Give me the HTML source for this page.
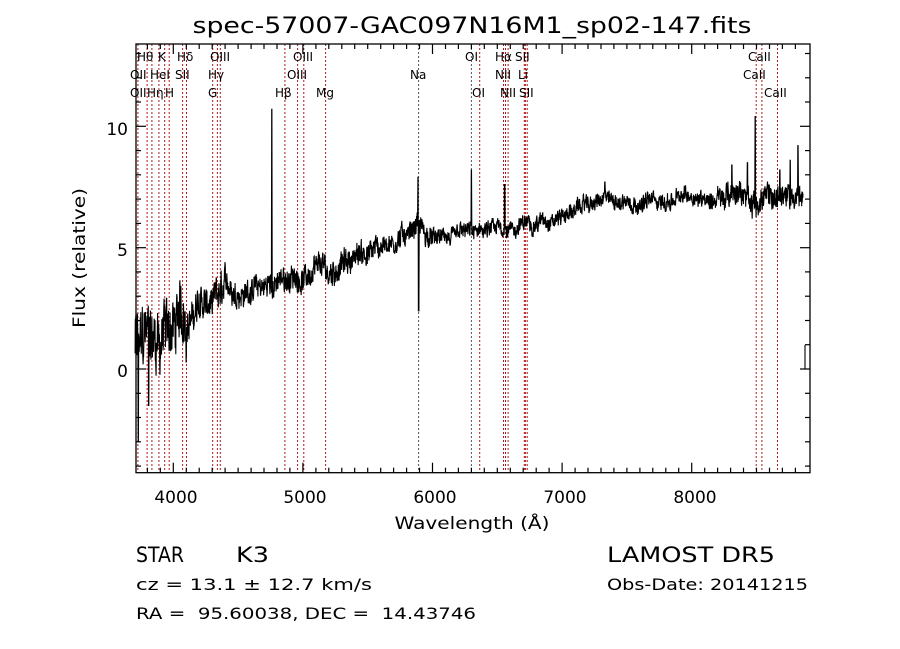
<!DOCTYPE html>
<html><head><meta charset="utf-8"><style>
html,body{margin:0;padding:0;background:#fff;}
svg{display:block;}
text{font-family:"DejaVu Sans","Liberation Sans",sans-serif;fill:#000;white-space:pre;}
</style></head><body>
<svg id="s" width="900" height="649" viewBox="0 0 900 649" xmlns="http://www.w3.org/2000/svg" xml:space="preserve">
<rect width="900" height="649" fill="#fff"/>
<text x="472" y="33" font-size="22" text-anchor="middle" textLength="559" lengthAdjust="spacingAndGlyphs">spec-57007-GAC097N16M1_sp02-147.fits</text>
<g id="lines"></g>
<path id="spec" fill="none" stroke="#000" stroke-width="1.1"/>
<rect x="136" y="44" width="674" height="428.7" fill="none" stroke="#000" stroke-width="1.3"/>
<g id="ticks" stroke="#000" stroke-width="1.2"></g>
<g font-size="17" text-anchor="middle">
<text x="176" y="503">4000</text><text x="305" y="503">5000</text><text x="435" y="503">6000</text><text x="565" y="503">7000</text><text x="695" y="503">8000</text>
</g>
<g font-size="17" text-anchor="end">
<text x="128" y="135">10</text><text x="128" y="256">5</text><text x="128" y="377">0</text>
</g>
<text x="472" y="529" font-size="17" text-anchor="middle" textLength="155" lengthAdjust="spacingAndGlyphs">Wavelength (Å)</text>
<text transform="translate(85,258) rotate(-90)" font-size="17" text-anchor="middle" textLength="140" lengthAdjust="spacingAndGlyphs">Flux (relative)</text>
<g font-size="12" id="labs">
<text x="137" y="61">Hθ</text><text x="158" y="61">K</text><text x="177" y="61">Hδ</text><text x="210" y="61">OIII</text><text x="293" y="61">OIII</text><text x="465" y="61">OI</text><text x="495" y="61">Hα</text><text x="515" y="61">SII</text><text x="748" y="61">CaII</text>
<text x="130" y="79">OII</text><text x="150" y="79">HeI</text><text x="175" y="79">SII</text><text x="208" y="79">Hγ</text><text x="287" y="79">OIII</text><text x="410" y="79">Na</text><text x="495" y="79">NII</text><text x="518" y="79">Li</text><text x="743" y="79">CaII</text>
<text x="130" y="97">OII</text><text x="147" y="97">Hη</text><text x="165" y="97">H</text><text x="208" y="97">G</text><text x="275" y="97">Hβ</text><text x="316" y="97">Mg</text><text x="472" y="97">OI</text><text x="500" y="97">NII</text><text x="519" y="97">SII</text><text x="764" y="97">CaII</text>
</g>
<g font-size="21"><text x="136" y="562" textLength="48" lengthAdjust="spacingAndGlyphs">STAR</text><text x="236" y="562" textLength="33" lengthAdjust="spacingAndGlyphs">K3</text><text x="607" y="562" textLength="168" lengthAdjust="spacingAndGlyphs">LAMOST DR5</text></g>
<g font-size="16"><text x="136" y="590" textLength="236" lengthAdjust="spacingAndGlyphs">cz = 13.1 ± 12.7 km/s</text><text x="607" y="590" textLength="201" lengthAdjust="spacingAndGlyphs">Obs-Date: 20141215</text>
<text x="136" y="619" textLength="340" lengthAdjust="spacingAndGlyphs">RA =  95.60038, DEC =  14.43746</text></g>
</svg>
<script>
var X=function(l){return 173.3+(l-4000)*0.1296;};
var Y=function(f){return 369-f*24.27;};
var NS="http://www.w3.org/2000/svg";
var lines=[3727,3798,3835,3889,3934,3968,4072,4102,4304,4340,4363,4861,4959,5007,5175,5893,6300,6364,6548,6563,6583,6708,6717,6731,8498,8542,8662];
var g=document.getElementById('lines');
lines.forEach(function(l){var e=document.createElementNS(NS,'line');var x=X(l).toFixed(1);
e.setAttribute('x1',x);e.setAttribute('x2',x);e.setAttribute('y1',44);e.setAttribute('y2',472);
e.setAttribute('stroke',(l==5893||l==6300)?'#555':'#b01818');e.setAttribute('stroke-width','1');e.setAttribute('stroke-dasharray','2,2');g.appendChild(e);});
var t=document.getElementById('ticks'),h='';
for(var l=3800;l<=8800;l+=100){var x=X(l).toFixed(1),len=(l%1000==0)?10:5;
h+='<line x1="'+x+'" x2="'+x+'" y1="472.7" y2="'+(472.7-len)+'"/><line x1="'+x+'" x2="'+x+'" y1="44" y2="'+(44+len)+'"/>';}
for(var f=-4;f<=13;f++){var y=Y(f).toFixed(1),len=(f%5==0)?10:5;
h+='<line x1="136" x2="'+(136+len)+'" y1="'+y+'" y2="'+y+'"/><line x1="810" x2="'+(810-len)+'" y1="'+y+'" y2="'+y+'"/>';}
t.innerHTML=h;
var cp=[[3700,1],[3800,1.2],[3900,1.4],[4000,1.8],[4100,2.1],[4200,2.7],[4300,2.5],[4400,3.0],[4500,3.2],[4700,3.4],[4800,3.6],[5000,3.8],[5150,4.0],[5200,3.7],[5300,4.3],[5400,4.6],[5600,5.1],[5800,5.6],[5880,6.2],[5950,5.6],[6000,5.3],[6200,5.4],[6400,5.6],[6600,5.8],[6800,6.1],[7000,6.4],[7200,6.8],[7500,7.0],[7800,6.9],[8000,7.1],[8300,7.1],[8600,7.0],[8860,7.2]];
function cont(l){for(var i=0;i<cp.length-1;i++){if(l<=cp[i+1][0]){var a=cp[i],b=cp[i+1];return a[1]+(b[1]-a[1])*(l-a[0])/(b[0]-a[0]);}}return 7.3;}
var seed=12345;function rnd(){seed=(seed*1103515245+12345)%2147483648;return seed/2147483648;}
var spikes={4760:10.7,5889:7.9,6300:8.2,6557:7.6,7330:7.7,8310:8.4,8430:8.5,8490:10.4,8680:8.2,8760:8.6,8820:9.2};
var d='',sm=0,slow=0;
for(var l=3705;l<=8860;l+=2){
 var amp=l<4100?1.1:(l<4400?0.6:(l<5600?0.45:(l<6000?0.4:0.3)));
 if(l>8200)amp=0.45;
 slow=0.97*slow+(rnd()-0.5)*0.12*amp*3;
 sm=0.35*sm+(rnd()-0.5)*2*amp;
 var f=cont(l)+sm+slow;
 for(var k in spikes){if(Math.abs(l-k)<=2)f=spikes[k];}
 if(Math.abs(l-5893)<=2)f=2.4;
 if(Math.abs(l-3730)<=2)f=-3;
 if(Math.abs(l-3810)<=2)f=-1.5;
 d+=(d?'L':'M')+X(l).toFixed(1)+','+Y(f).toFixed(1);
}
d+='M805,369L805,345';
document.getElementById('spec').setAttribute('d',d);
</script>
</body></html>
